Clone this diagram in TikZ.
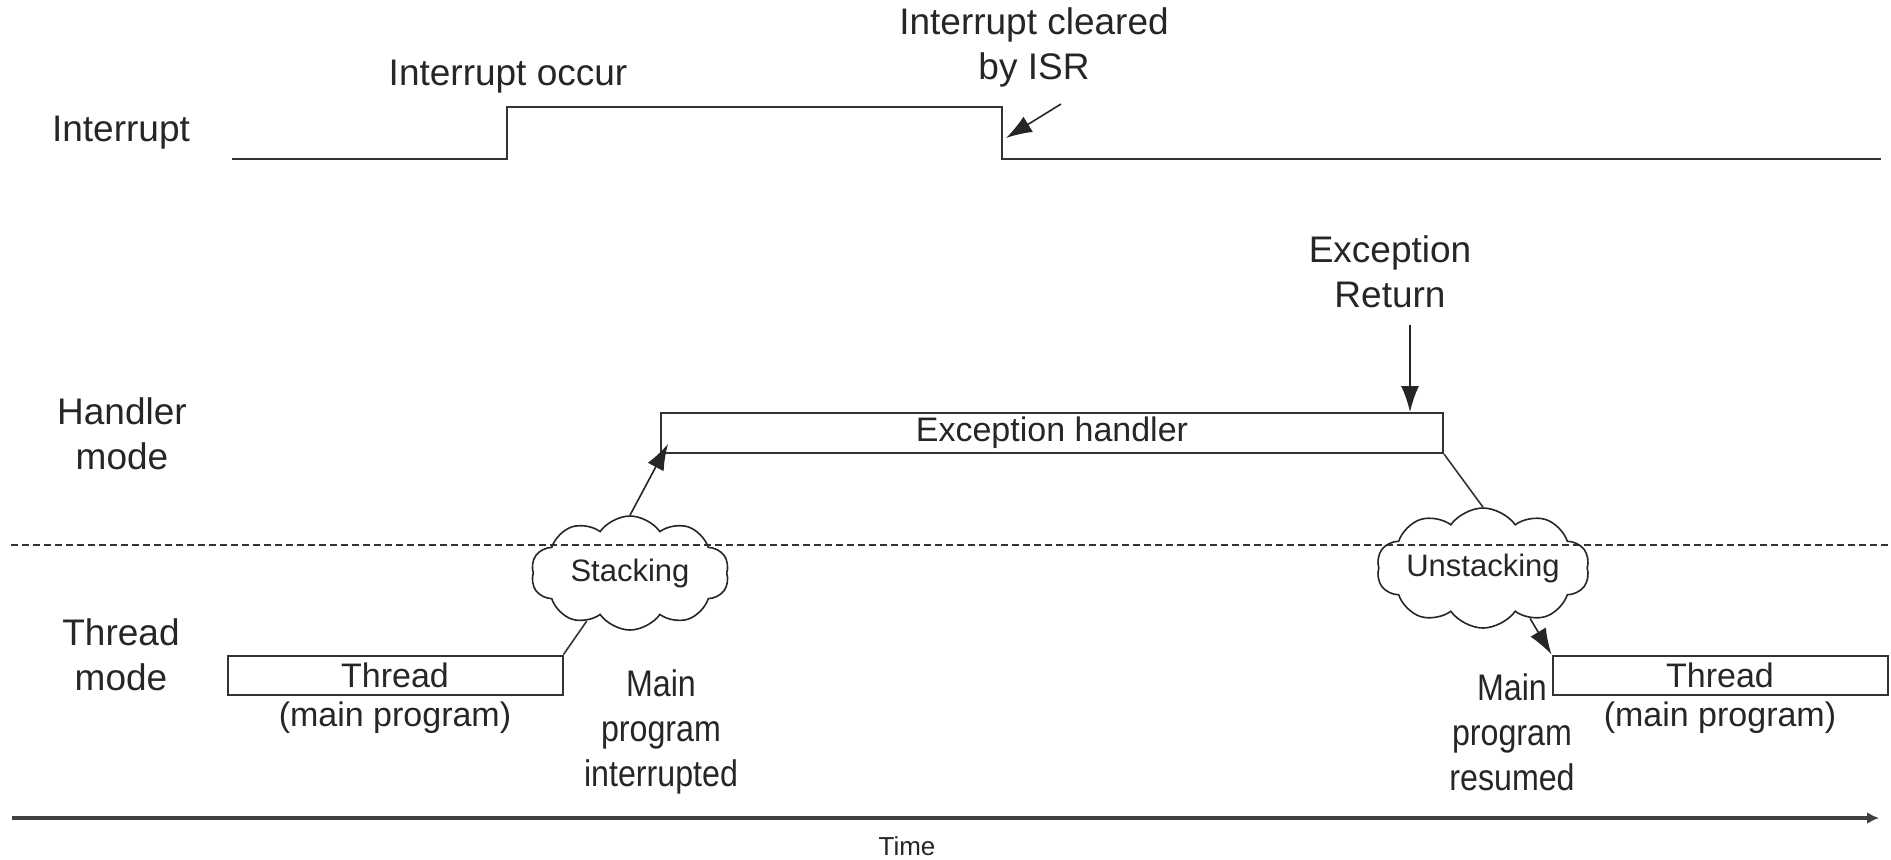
\documentclass[tikz,border=0pt]{standalone}
\usepackage{fontspec}
\setmainfont{Liberation Sans}
\newfontfamily\narrowsans[FakeStretch=0.87]{Liberation Sans}
\usetikzlibrary{arrows.meta, positioning, shapes.symbols}

\begin{document}
\begin{tikzpicture}[
  x=0.5pt, y=-0.5pt,
  line/.style={draw=black!80, line width=1pt},
  lbl/.style={font=\fontsize{18.5}{22.5}\selectfont, text=black!85, align=center, inner sep=0pt},
  note/.style={lbl, font=\narrowsans\fontsize{18.5}{22.5}\selectfont},
  slot/.style={rectangle, draw=black!80, line width=1pt, inner sep=0pt,
               minimum width=167.5pt, minimum height=19.5pt,
               font=\fontsize{17}{20}\selectfont, text=black!85},
  sub/.style={font=\fontsize{17}{20}\selectfont, text=black!85, inner sep=0pt},
  puff/.style={cloud, cloud puffs=10, cloud puff arc=110, cloud ignores aspect,
               shape border rotate=18, draw=black!85, line width=0.8pt,
               inner sep=0pt, font=\fontsize{15.5}{18}\selectfont, text=black!85},
  arr/.style={-{Latex[length=13pt, width=9pt]}, draw=black!85, line width=0.8pt},
  axis/.style={-{Latex[length=6pt, width=6pt]}, draw=black!75, line width=1.6pt}
]
  \useasboundingbox (0,0) rectangle (1891,859);

  \node[lbl] (lint) at (121,133) {Interrupt};
  \node[lbl] (lhnd) at (122,434) {Handler\\mode};
  \node[lbl] (lthr) at (121,655) {Thread\\mode};

  \coordinate (i0)    at (232,159);
  \coordinate (irise) at (507,159);
  \coordinate (ifall) at (1002,107);
  \coordinate (i1)    at (1881,159);
  \draw[line] (i0) -- (irise) |- (ifall) |- (i1);

  \node[lbl] (occur) at (508,77) {Interrupt occur};
  \node[lbl] (clear) at (1034,47) {Interrupt cleared\\by ISR};
  \coordinate (isrtail) at (1061,104);
  \coordinate (isrtip)  at (1006,138);
  \draw[arr] (isrtail) -- (isrtip);

  \node[slot, minimum width=391pt, minimum height=20pt] (hnd) at (1052,433) {Exception handler};
  \node[lbl] (eret) at (1390,272) {Exception\\Return};
  \coordinate (rettail) at (1410,325);
  \draw[arr] (rettail) -- (rettail |- hnd.north);

  \coordinate (dl) at (11,545);
  \coordinate (dr) at (1891,545);
  \draw[line, line width=0.9pt, dash pattern=on 3.3pt off 2.2pt] (dl) -- (dr);

  \node[puff, minimum width=99pt, minimum height=57pt] (stk) at (630,573) {Stacking};
  \node[puff, minimum width=94pt, minimum height=60pt] (ustk) at (1483,568) {Unstacking};

  \node[slot] (thr1) at (395,675) {Thread};
  \node[sub, below=3pt of thr1] (mp1) {(main program)};
  \node[slot] (thr2) at (1720,675) {Thread};
  \node[sub, below=3pt of thr2] (mp2) {(main program)};

  \draw[line, line width=0.8pt] (thr1.north east) -- (stk.228);
  \draw[arr] (stk.north) -- ([xshift=4pt, yshift=5pt]hnd.south west);
  \draw[line, line width=0.8pt] (hnd.south east) -- (ustk.north);
  \draw[arr] (ustk.313) -- (thr2.north west);

  \node[note] (intd) at (661,732) {Main\\program\\interrupted};
  \node[note] (resd) at (1512,732) {Main\\program\\resumed};

  \coordinate (t0) at (12,818);
  \coordinate (t1) at (1879,818);
  \draw[axis] (t0) -- (t1);
  \node[font=\fontsize{13}{15}\selectfont, text=black!85, inner sep=0pt] (time) at (907,846) {Time};
\end{tikzpicture}
\end{document}
